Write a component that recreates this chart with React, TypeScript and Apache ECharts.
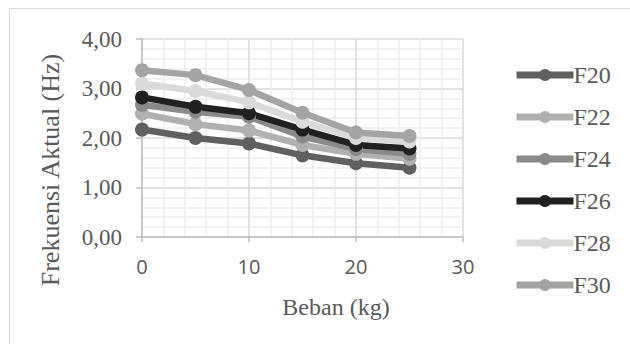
import React, { useEffect, useRef } from "react";
import * as echarts from "echarts";

const xValues = [0, 5, 10, 15, 20, 25];
const seriesNames = ["F20", "F22", "F24", "F26", "F28", "F30"];
const f20 = [2.17, 2.0, 1.89, 1.65, 1.49, 1.4];
const f22 = [2.49, 2.28, 2.15, 1.86, 1.68, 1.58];
const f24 = [2.67, 2.53, 2.43, 2.03, 1.78, 1.68];
const f26 = [2.82, 2.63, 2.5, 2.17, 1.86, 1.79];
const f28 = [3.1, 2.95, 2.72, 2.33, 2.0, 1.93];
const f30 = [3.37, 3.27, 2.97, 2.51, 2.11, 2.04];
const seriesValues = [f20, f22, f24, f26, f28, f30];
const seriesColors = ["#606060", "#b0b0b0", "#8a8a8a", "#202020", "#dadada", "#a4a4a4"];
const xTitle = "Beban (kg)";
const yTitle = "Frekuensi Aktual (Hz)";

export default function App() {
  const ref = useRef<HTMLDivElement>(null);
  useEffect(() => {
    document.body.style.margin = "0";
    const chart = echarts.init(ref.current!, null, { renderer: "svg" });
    const serif = "'Liberation Serif', 'Times New Roman', serif";
    chart.setOption({
      animation: false,
      backgroundColor: "#ffffff",
      graphic: [
        { type: "line", shape: { x1: 9.5, y1: 8.5, x2: 630, y2: 8.5 }, style: { stroke: "#d9d9d9", lineWidth: 1 } },
        { type: "line", shape: { x1: 9.5, y1: 8.5, x2: 9.5, y2: 344 }, style: { stroke: "#d9d9d9", lineWidth: 1 } },
        {
          type: "text",
          x: 50,
          y: 170,
          rotation: Math.PI / 2,
          style: { text: yTitle, fontFamily: serif, fontSize: 26, fill: "#595959", align: "center", verticalAlign: "middle" },
        },
        {
          type: "text",
          x: 336,
          y: 307,
          style: { text: xTitle, fontFamily: serif, fontSize: 24, fill: "#595959", align: "center", verticalAlign: "middle" },
        },
      ],
      grid: { left: 142, right: 167, top: 39, bottom: 107, containLabel: false },
      legend: {
        orient: "vertical",
        left: 508,
        top: 57,
        itemWidth: 57,
        itemHeight: 15,
        itemGap: 16,
        lineStyle: { width: 7 },
        textStyle: { fontFamily: serif, fontSize: 24, color: "#595959", padding: [0, 0, 0, -5], lineHeight: 26 },
        data: seriesNames,
      },
      xAxis: {
        type: "value",
        min: 0,
        max: 30,
        interval: 10,
        axisLine: { show: true, onZero: false, lineStyle: { color: "#bfbfbf", width: 1.5 } },
        axisTick: { show: true, length: 5, lineStyle: { color: "#bfbfbf", width: 1.5 } },
        axisLabel: { fontFamily: "'Open Sans', sans-serif", fontSize: 20, color: "#595959", margin: 19 },
        splitLine: { show: true, lineStyle: { color: "#d9d9d9", width: 1.5 } },
        minorTick: { show: false, splitNumber: 5 },
        minorSplitLine: { show: true, lineStyle: { color: "#ececec", width: 1.5 } },
      },
      yAxis: {
        type: "value",
        min: 0,
        max: 4,
        interval: 1,
        axisLine: { show: true, lineStyle: { color: "#bfbfbf", width: 1.5 } },
        axisTick: { show: true, length: 6, lineStyle: { color: "#bfbfbf", width: 1.5 } },
        axisLabel: {
          fontFamily: serif,
          fontSize: 23,
          color: "#595959",
          margin: 20,
          formatter: (v: number) => v.toFixed(2).replace(".", ","),
        },
        splitLine: { show: true, lineStyle: { color: "#d9d9d9", width: 1.5 } },
        minorTick: { show: false, splitNumber: 5 },
        minorSplitLine: { show: true, lineStyle: { color: "#ececec", width: 1.5 } },
      },
      series: seriesNames.map((name, i) => ({
        name,
        type: "line",
        data: xValues.map((x, j) => [x, seriesValues[i][j]]),
        symbol: "circle",
        symbolSize: 14,
        color: seriesColors[i],
        lineStyle: { width: 6.5, color: seriesColors[i] },
        itemStyle: { color: seriesColors[i] },
      })),
    });
    return () => chart.dispose();
  }, []);
  return <div ref={ref} style={{ width: 630, height: 344 }} />;
}
